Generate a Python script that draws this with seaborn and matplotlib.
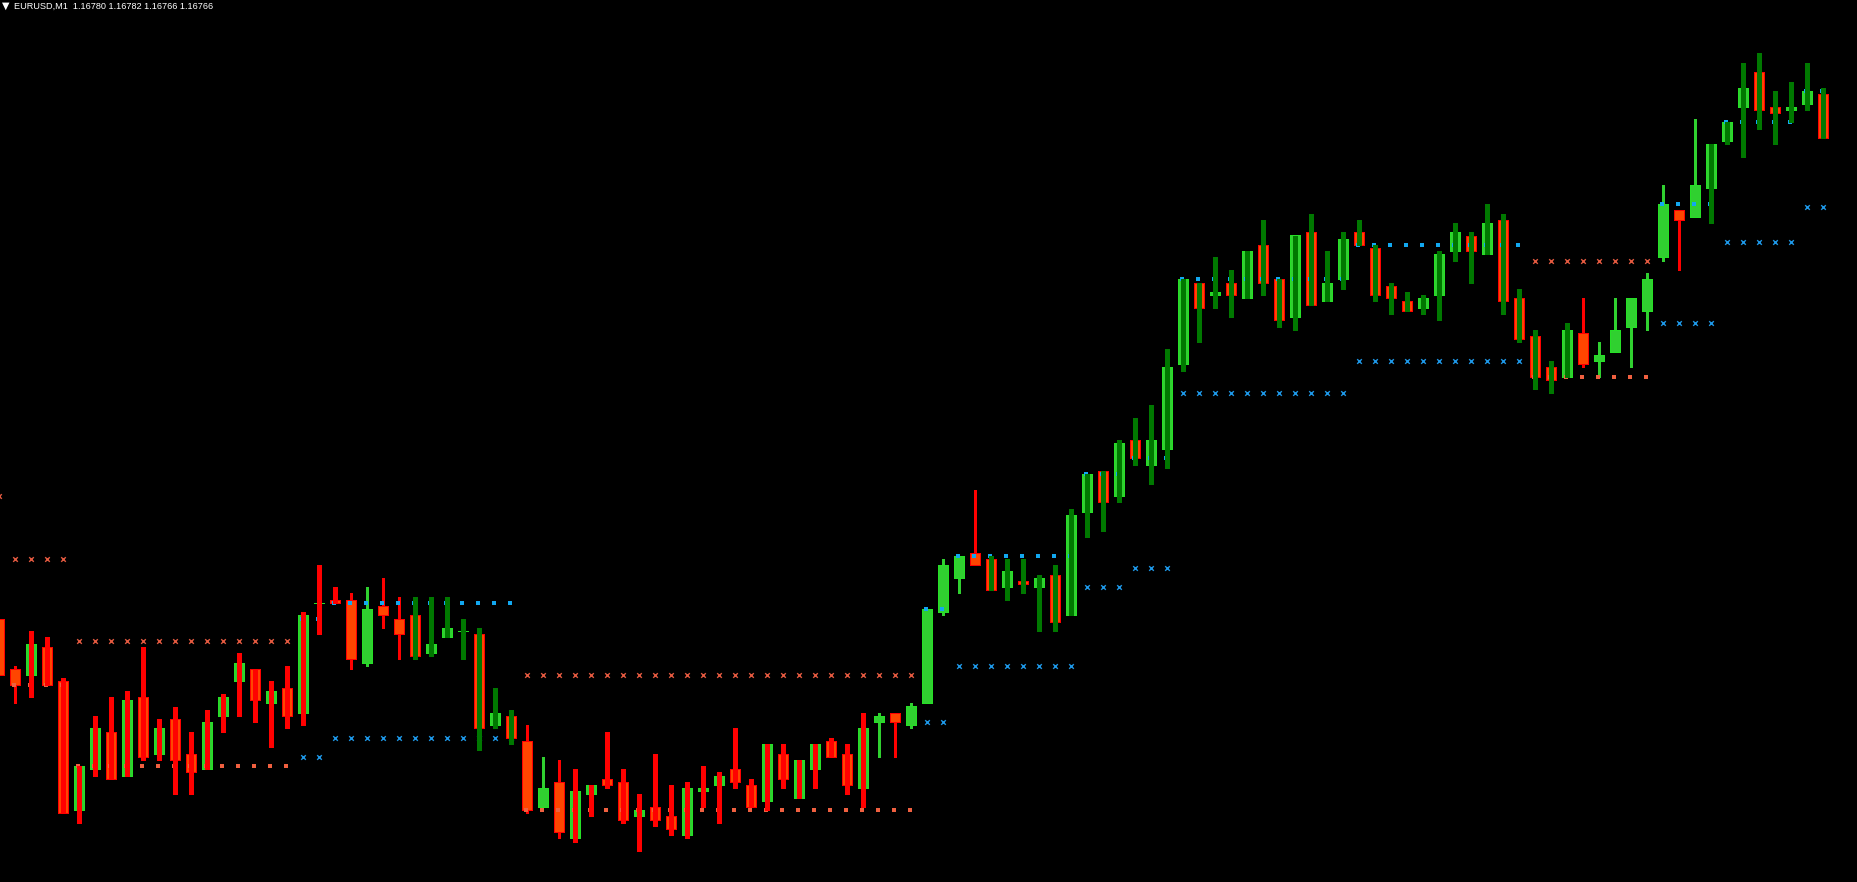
import numpy as np
import pandas as pd
import matplotlib
matplotlib.use('Agg')
from matplotlib import pyplot as plt
import seaborn as sns

# EURUSD M1, one value per bar (left to right)
open_ = [
    1.16613, 1.16597, 1.16595, 1.16604, 1.16593, 1.16552, 1.16565, 1.16577, 1.16563, 1.16588,
    1.16570, 1.16581, 1.16570, 1.16565, 1.16582, 1.16593, 1.16597, 1.16586, 1.16591, 1.16583,
    1.16618, 1.16619, 1.16619, 1.16599, 1.16617, 1.16613, 1.16614, 1.16602, 1.16607, 1.16609,
    1.16608, 1.16579, 1.16582, 1.16574, 1.16553, 1.16561, 1.16543, 1.16557, 1.16562, 1.16561,
    1.16550, 1.16553, 1.16550, 1.16544, 1.16558, 1.16560, 1.16565, 1.16560, 1.16555, 1.16570,
    1.16556, 1.16565, 1.16574, 1.16570, 1.16559, 1.16580, 1.16583, 1.16579, 1.16586, 1.16615,
    1.16626, 1.16634, 1.16632, 1.16623, 1.16625, 1.16623, 1.16627, 1.16614, 1.16647, 1.16660,
    1.16652, 1.16670, 1.16662, 1.16667, 1.16694, 1.16720, 1.16716, 1.16720, 1.16715, 1.16732,
    1.16721, 1.16709, 1.16736, 1.16714, 1.16721, 1.16736, 1.16731, 1.16719, 1.16714, 1.16712,
    1.16716, 1.16730, 1.16735, 1.16729, 1.16740, 1.16715, 1.16703, 1.16693, 1.16690, 1.16704,
    1.16695, 1.16698, 1.16706, 1.16711, 1.16728, 1.16743, 1.16741, 1.16750, 1.16765, 1.16776,
    1.16787, 1.16776, 1.16775, 1.16777, 1.16780]

high = [
    1.16613, 1.16598, 1.16609, 1.16607, 1.16594, 1.16566, 1.16582, 1.16588, 1.16590, 1.16604,
    1.16581, 1.16585, 1.16577, 1.16584, 1.16589, 1.16602, 1.16597, 1.16593, 1.16598, 1.16615,
    1.16630, 1.16623, 1.16621, 1.16623, 1.16626, 1.16620, 1.16620, 1.16620, 1.16620, 1.16613,
    1.16610, 1.16591, 1.16584, 1.16579, 1.16569, 1.16568, 1.16565, 1.16560, 1.16577, 1.16565,
    1.16557, 1.16570, 1.16560, 1.16561, 1.16566, 1.16564, 1.16578, 1.16562, 1.16573, 1.16573,
    1.16568, 1.16573, 1.16575, 1.16573, 1.16583, 1.16583, 1.16583, 1.16586, 1.16616, 1.16632,
    1.16633, 1.16654, 1.16633, 1.16632, 1.16632, 1.16627, 1.16630, 1.16648, 1.16659, 1.16660,
    1.16670, 1.16677, 1.16681, 1.16699, 1.16721, 1.16720, 1.16728, 1.16724, 1.16730, 1.16740,
    1.16721, 1.16735, 1.16742, 1.16730, 1.16736, 1.16740, 1.16732, 1.16720, 1.16717, 1.16716,
    1.16730, 1.16739, 1.16736, 1.16745, 1.16742, 1.16718, 1.16705, 1.16695, 1.16707, 1.16715,
    1.16701, 1.16715, 1.16715, 1.16723, 1.16751, 1.16743, 1.16772, 1.16764, 1.16771, 1.16790,
    1.16793, 1.16781, 1.16784, 1.16790, 1.16782]

low = [
    1.16595, 1.16586, 1.16588, 1.16592, 1.16551, 1.16548, 1.16563, 1.16562, 1.16563, 1.16568,
    1.16568, 1.16557, 1.16557, 1.16565, 1.16577, 1.16582, 1.16580, 1.16572, 1.16578, 1.16579,
    1.16608, 1.16618, 1.16597, 1.16598, 1.16610, 1.16600, 1.16600, 1.16601, 1.16607, 1.16600,
    1.16571, 1.16578, 1.16573, 1.16551, 1.16553, 1.16543, 1.16542, 1.16550, 1.16559, 1.16548,
    1.16539, 1.16547, 1.16544, 1.16543, 1.16553, 1.16548, 1.16559, 1.16553, 1.16552, 1.16559,
    1.16556, 1.16559, 1.16569, 1.16557, 1.16553, 1.16569, 1.16569, 1.16578, 1.16586, 1.16614,
    1.16621, 1.16630, 1.16622, 1.16619, 1.16621, 1.16609, 1.16609, 1.16614, 1.16639, 1.16641,
    1.16650, 1.16662, 1.16656, 1.16661, 1.16692, 1.16701, 1.16712, 1.16709, 1.16715, 1.16716,
    1.16706, 1.16705, 1.16713, 1.16714, 1.16718, 1.16732, 1.16714, 1.16710, 1.16711, 1.16710,
    1.16708, 1.16727, 1.16720, 1.16729, 1.16710, 1.16701, 1.16686, 1.16685, 1.16690, 1.16693,
    1.16690, 1.16698, 1.16693, 1.16705, 1.16727, 1.16724, 1.16741, 1.16739, 1.16764, 1.16760,
    1.16769, 1.16764, 1.16771, 1.16775, 1.16766]

close = [
    1.16595, 1.16592, 1.16605, 1.16592, 1.16551, 1.16566, 1.16578, 1.16562, 1.16587, 1.16569,
    1.16578, 1.16568, 1.16564, 1.16580, 1.16588, 1.16599, 1.16587, 1.16590, 1.16582, 1.16614,
    1.16618, 1.16618, 1.16600, 1.16616, 1.16614, 1.16608, 1.16601, 1.16605, 1.16610, 1.16609,
    1.16578, 1.16583, 1.16575, 1.16552, 1.16559, 1.16545, 1.16558, 1.16560, 1.16560, 1.16549,
    1.16552, 1.16549, 1.16546, 1.16559, 1.16559, 1.16563, 1.16561, 1.16553, 1.16573, 1.16562,
    1.16568, 1.16573, 1.16569, 1.16560, 1.16578, 1.16582, 1.16580, 1.16585, 1.16616, 1.16630,
    1.16633, 1.16630, 1.16622, 1.16628, 1.16624, 1.16626, 1.16612, 1.16646, 1.16659, 1.16650,
    1.16669, 1.16664, 1.16670, 1.16693, 1.16721, 1.16712, 1.16717, 1.16716, 1.16730, 1.16720,
    1.16708, 1.16735, 1.16713, 1.16720, 1.16734, 1.16732, 1.16716, 1.16715, 1.16711, 1.16715,
    1.16729, 1.16736, 1.16730, 1.16739, 1.16714, 1.16702, 1.16690, 1.16689, 1.16705, 1.16694,
    1.16697, 1.16705, 1.16715, 1.16721, 1.16745, 1.16740, 1.16751, 1.16764, 1.16771, 1.16782,
    1.16775, 1.16774, 1.16776, 1.16781, 1.16766]

# wick style per bar: t = plain thin wick, r = thick red bar, g = thick dark green bar
wick_style = ("tt" "rrrrrrrrrrrrrrrrrrrr" "tttt" "ggggggg" "ttt" "rrrrrrrrrrrrrrrrrrr"
              "ttttttt" "ggggggggggggggggggggggggggggggggggggg" "tttttttt" "gggggggg")

# level markers: (first bar, last bar, price)
upper_x = [(0, 0, 1.16652), (1, 4, 1.16632), (5, 18, 1.16606), (33, 57, 1.16595), (96, 103, 1.16727)]
upper_dot = [(1, 4, 1.16592), (5, 18, 1.16566), (33, 57, 1.16552), (96, 103, 1.16690)]
lower_x = [(19, 20, 1.16569), (21, 32, 1.16575), (58, 59, 1.16580), (60, 67, 1.16598),
           (68, 70, 1.16623), (71, 73, 1.16629), (74, 84, 1.16685), (85, 95, 1.16695),
           (104, 107, 1.16707), (108, 112, 1.16733), (113, 114, 1.16744)]
lower_dot = [(19, 20, 1.16613), (21, 32, 1.16618), (58, 59, 1.16616), (60, 67, 1.16633),
             (68, 70, 1.16659), (71, 73, 1.16664), (74, 84, 1.16721), (85, 95, 1.16732),
             (104, 107, 1.16745), (108, 112, 1.16771), (113, 114, 1.16781)]

assert len(wick_style) == len(open_) == len(high) == len(low) == len(close)

GREEN = '#30d030'
GREEN_EDGE = '#26e026'
ORANGE = '#ff4500'
RED = '#ff0000'
DKGREEN = '#007800'

sns.set_theme(style='dark', rc={'axes.facecolor': 'black', 'figure.facecolor': 'black'})
plt.rcParams['font.family'] = ['Liberation Sans', 'DejaVu Sans']

df = pd.DataFrame({'open': open_, 'high': high, 'low': low, 'close': close,
                   'wick': list(wick_style)})
df['bar'] = np.arange(len(df))
df['bull'] = df['close'] >= df['open']


def expand(runs):
    rows = []
    for a, b, lvl in runs:
        for i in range(a, b + 1):
            rows.append((i, lvl))
    return pd.DataFrame(rows, columns=['bar', 'price'])


W, H = 1858, 882
fig = plt.figure(figsize=(W / 100, H / 100), dpi=100)
ax = fig.add_axes([0, 0, 1, 1])
ax.set_facecolor('black')

# thin wicks behind the bodies
thin = df[df['wick'] == 't']
ax.vlines(thin['bar'], thin['low'], thin['high'],
          colors=np.where(thin['bull'], GREEN, RED), lw=0.75, zorder=1, antialiased=False)

up = df[df['bull']]
dn = df[~df['bull']]
bw = 10.3 / 16
ax.bar(up['bar'], up['close'] - up['open'], bottom=up['open'], width=bw,
       color=GREEN, edgecolor=GREEN_EDGE, lw=0.6, zorder=2, antialiased=False)
ax.bar(dn['bar'], dn['close'] - dn['open'], bottom=dn['open'], width=bw,
       color=ORANGE, edgecolor=RED, lw=0.6, zorder=2, antialiased=False)

# level markers
sns.scatterplot(data=expand(upper_x), x='bar', y='price', marker='x', color='#e45a40',
                s=11, linewidth=1.0, ax=ax, zorder=3, legend=False)
sns.scatterplot(data=expand(lower_x), x='bar', y='price', marker='x', color='#1e98e8',
                s=11, linewidth=1.0, ax=ax, zorder=3, legend=False)
ud = expand(upper_dot)
ud['bar'] = ud['bar'] - 0.08
ld = expand(lower_dot)
ld['bar'] = ld['bar'] - 0.08
sns.scatterplot(data=ud, x='bar', y='price', marker='s', color='#f06040',
                s=5, linewidth=0, ax=ax, zorder=3, legend=False)
sns.scatterplot(data=ld, x='bar', y='price', marker='s', color='#12a8f0',
                s=5, linewidth=0, ax=ax, zorder=3, legend=False)

# thick bars on top
thick = df[df['wick'] != 't']
ax.vlines(thick['bar'], thick['low'], thick['high'],
          colors=np.where(thick['wick'] == 'r', RED, DKGREEN), lw=2.2, zorder=4, antialiased=False)

ax.set_xlim(0.7 / 16, (W + 0.7) / 16)
ax.set_ylim(1.16810 - H / 314000, 1.16810)
ax.set_xticks([])
ax.set_yticks([])
for s in ax.spines.values():
    s.set_visible(False)
ax.set_xlabel('')
ax.set_ylabel('')

last = df.iloc[-1]
header = 'EURUSD,M1  %.5f %.5f %.5f %.5f' % (last['open'], last['high'], last['low'], last['close'])
fig.text(14 / W, 1 - 9 / H, header, color='white', fontsize=6.6, ha='left', va='baseline')
fig.text(1.5 / W, 1 - 8.5 / H, '\u25bc', color='white', fontsize=7, ha='left', va='baseline',
         family='DejaVu Sans')

fig.savefig('out.png', dpi=100, facecolor='black')
